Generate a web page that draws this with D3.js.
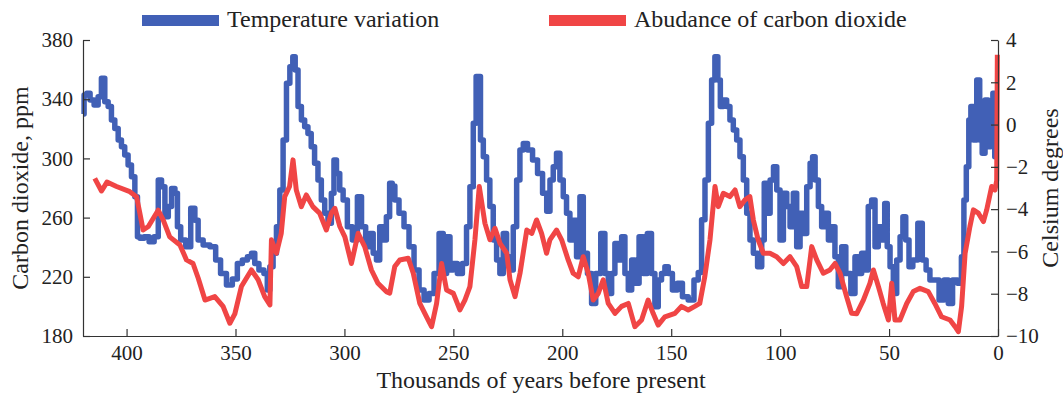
<!DOCTYPE html>
<html>
<head>
<meta charset="utf-8">
<script src="https://cdn.jsdelivr.net/npm/d3@7"></script>
<style>
  html, body { margin: 0; padding: 0; background: #fff; }
  svg { display: block; font-family: "Liberation Serif", "Times New Roman", serif; }
  .axis path, .axis line { stroke: #333; stroke-width: 1.2; }
  .axis text { font-size: 21px; fill: #222; font-family: "Liberation Serif", serif; }
  .title { font-size: 24px; fill: #222; }
</style>
</head>
<body>
<svg id="chart" width="1063" height="395"></svg>
<script>
// CO2 record (thousands of years before present, ppm)
const co2Kyr = [414.6, 411.5, 409, 404.6, 398.5, 395.4, 393.9, 392.4, 390, 385.5, 383.2, 380.2, 375.5, 372.5, 369.5, 367.1, 364, 359.5, 355.7, 352.6,
  350.3, 347.3, 342.7, 339.6, 336.6, 334.2, 333.5, 331.2, 329, 327.4, 325.2, 323.6, 322.1, 319.8, 317.5, 314.5, 311.4, 308.3, 306, 304.4,
  302.1, 299.8, 296.8, 293.7, 290.7, 287.6, 284.6, 280.8, 279.2, 276.9, 274.6, 270.7, 268.4, 265.4, 262.3, 260, 257.7, 255.4, 253.1, 250,
  247, 244.7, 242.4, 240.1, 238.1, 235.5, 233.2, 230.9, 228.6, 225.5, 224, 221.7, 219.4, 216.3, 214, 211.8, 209.5, 207.2, 205.7, 202.6,
  200.3, 197.3, 195, 192.7, 190.4, 188.1, 185.8, 183.5, 181.2, 178.9, 175.8, 172.8, 169.7, 166.7, 163.6, 160.6, 158.3, 156, 152.9, 148.3,
  145.3, 142.2, 139.2, 136.9, 134.6, 132.2, 129.9, 128.4, 126.1, 123.1, 120.7, 118.5, 116.1, 113.9, 112.3, 110.1, 107.7, 104.7, 101.6, 98.5,
  95.5, 92.4, 90.1, 87.8, 85.5, 83.2, 80.2, 77.2, 74.8, 72.5, 69.5, 67.2, 64.9, 61.8, 58.8, 57.2, 54.9, 52.7, 50.3, 48.8,
  47.3, 45, 41.9, 38.9, 35.8, 32, 29, 25.9, 22, 19.7, 18.2, 16.7, 15.1, 12.9, 11.3, 9, 6.7, 5.2, 2.9, 1.4,
  0.6, 0.3];
const co2Ppm = [286.5, 278, 284, 281, 277.5, 274, 263, 251.6, 254, 265, 258.4, 247, 241.5, 231.4, 229, 219, 204.3, 206.6, 200, 188.6,
  195, 213.4, 224.6, 218, 206.6, 201, 245, 236, 249.4, 274.2, 281, 299, 278.7, 267.4, 275.3, 267.4, 263, 251.6, 263, 266.3,
  254, 247, 229, 249.4, 240.4, 224.6, 215.6, 210, 209, 226.9, 231.4, 232.5, 222.4, 202, 193, 186.3, 202, 229, 211, 208.8,
  197.6, 204.3, 213.4, 245, 281, 256.1, 245, 252.8, 242.6, 235.9, 218, 206.6, 222.4, 251.6, 249.4, 258.4, 249.4, 235.9, 244.9, 251.6,
  245, 231.4, 222.4, 220, 233.6, 222.4, 204.3, 208.8, 218, 202, 195.3, 200, 202, 186.3, 190.8, 204.3, 195.3, 187.4, 193, 195.3,
  200, 197.6, 200, 202, 220, 245, 281, 267.4, 276.4, 274.2, 278.7, 267.4, 272, 274.2, 258.4, 245, 235.9, 235.9, 233.6, 229,
  233.6, 226.9, 213.4, 213.4, 240.4, 231.4, 222.4, 224.6, 229, 222.4, 206.6, 195.3, 195, 204.3, 215.6, 224.6, 213.4, 202, 190.8, 215.6,
  190.8, 190.8, 202, 210, 212.2, 210, 202, 193, 190.8, 186.3, 183, 200, 235.9, 253.9, 265.2, 263, 257.3, 265.2, 281, 278.7,
  285, 370];

// Temperature variation (thousands of years before present, degrees C)
const tempKyr = [420, 419, 417.5, 416, 413.8, 412.3, 410.8, 409.2, 407.7, 406.2, 404.6, 403.1, 401.6, 400.1, 398.5, 397, 395.4, 394.6, 393.1, 390.8,
  388.5, 386.2, 384.7, 383.2, 381.6, 380.1, 378.6, 377, 376.3, 374, 371.7, 369.4, 367.9, 366.4, 363.3, 360.2, 358, 355.7, 352.6, 350.3,
  348, 345.7, 343.4, 341.9, 340.4, 338.1, 335.8, 335, 333.5, 332, 330.4, 328.9, 327.4, 325.8, 324.3, 323.1, 322.1, 320.5, 319, 317.5,
  316, 314.5, 312.9, 311.4, 309.8, 308.3, 306.8, 305.2, 304.4, 302.9, 301.4, 299.8, 297.5, 295.2, 292.9, 291.4, 289.1, 287.6, 286, 284.6,
  283, 281.5, 280, 278.5, 277.6, 276.1, 273.8, 271.5, 269.2, 266.9, 264.6, 262.3, 260, 257.7, 255.4, 253.9, 252.3, 250.8, 249.3, 247,
  244.7, 243.2, 241.6, 240.1, 239, 238.1, 237, 235.5, 234, 232.5, 230.9, 229.4, 227.9, 226.3, 224.8, 223.3, 221.7, 220.2, 218.7, 217.1,
  214.8, 212.5, 210.2, 207.9, 206.4, 204.9, 203.4, 201.9, 200.3, 198.8, 197.3, 195.7, 194.2, 192.7, 191.1, 189.6, 187.3, 185.8, 183.5, 181.2,
  179.7, 178.1, 176.6, 175.1, 173.5, 172, 170.5, 168.9, 167.4, 165.9, 163.6, 162.1, 159.8, 158.3, 156.7, 155.2, 153.7, 152.1, 150.6, 148.3,
  146, 143.7, 140.7, 138.4, 136.8, 135.3, 133.7, 132.2, 130.7, 129.2, 128, 126.9, 125.3, 123.8, 122.3, 120.7, 119.2, 117.7, 116.1, 114.6,
  113.1, 111.5, 109.2, 107.7, 106.9, 105.4, 103.8, 102.3, 100.8, 99.3, 97.7, 96.2, 94.7, 93.2, 91.6, 90.1, 88.6, 87, 85.5, 84.7,
  83.2, 81.7, 80.2, 78.6, 77.1, 75.6, 74.1, 72.5, 71, 68.7, 66.4, 64.9, 63.4, 61.8, 60.3, 58.8, 57.2, 55.7, 54.2, 52.6,
  51.4, 50.3, 48.8, 47.3, 45.7, 44.2, 43.1, 41.6, 40.1, 38.1, 35.5, 34, 32, 30.5, 28.2, 25.9, 23.6, 22, 19.7, 17.4,
  16.2, 15.1, 14, 12.8, 12.1, 10.5, 9, 7.8, 6.7, 5.2, 3.9, 2.9, 1.8, 1.2];
const tempC = [0.5, 1.4, 1.48, 1.16, 0.92, 1.32, 2.19, 1.08, 0.85, 0.22, -0.18, -0.73, -1.05, -1.44, -1.91, -2.47, -3.41, -5.3, -5.38, -5.3,
  -5.54, -5.3, -2.62, -2.94, -4.36, -3.88, -3.02, -3.25, -4.83, -5.46, -5.78, -3.96, -4.52, -5.46, -5.7, -5.78, -6.41, -7.04, -7.59, -7.3,
  -6.57, -6.41, -6.25, -6.09, -6.57, -6.88, -7.04, -7.83, -6.72, -6.09, -4.83, -3.1, -0.73, 1.95, 2.74, 3.21, 2.58, 0.85, 0.22, -0.1,
  -0.42, -1.05, -1.83, -2.62, -3.57, -4.2, -4.67, -3.25, -1.68, -2.31, -3.1, -3.57, -4.83, -5.46, -3.41, -4.83, -5.78, -5.15, -6.09, -6.41,
  -4.83, -5.46, -4.36, -2.78, -2.9, -3.57, -4.2, -4.83, -5.78, -6.88, -7.83, -8.3, -7.99, -7.04, -5.15, -7.04, -5.3, -6.88, -6.57, -7.04,
  -6.57, -4.83, -2.94, 0.06, 2.27, 2.27, -0.73, -1.52, -2.62, -3.88, -5.46, -6.41, -7.04, -5.15, -6.25, -6.88, -4.83, -2.62, -1.2, -0.89,
  -1.2, -1.68, -2.31, -3.25, -4.1, -2.62, -1.99, -1.36, -2.62, -3.41, -4.2, -5.46, -4.52, -6.25, -3.41, -6.09, -7.04, -8.46, -7.04, -5.15,
  -7.04, -7.99, -7.04, -5.62, -6.41, -5.3, -7.04, -7.83, -6.41, -7.51, -5.3, -7.04, -5.15, -7.04, -8.62, -7.35, -7.04, -6.72, -7.04, -7.83,
  -7.51, -8.14, -8.3, -7.35, -7.0, -4.5, -2.62, 0.06, 2.11, 3.21, 2.11, 0.85, 1.16, 0.85, 0.22, -0.26, -0.73, -1.52, -2.62, -4.2,
  -5.46, -6.09, -6.72, -5.46, -2.78, -4.2, -2.62, -1.99, -3.1, -5.46, -3.25, -3.88, -4.83, -3.25, -5.78, -4.2, -5.15, -2.94, -1.83, -1.52,
  -2.62, -3.88, -4.83, -4.2, -5.46, -4.83, -6.25, -7.67, -5.78, -7.04, -7.99, -6.25, -7.04, -6.09, -6.88, -3.88, -3.57, -5.78, -4.83, -5.46,
  -3.73, -5.78, -6.72, -7.99, -6.41, -5.3, -4.36, -5.46, -6.72, -6.41, -4.67, -6.41, -6.88, -7.35, -7.35, -8.3, -7.35, -8.46, -7.35, -7.51,
  -6.25, -3.57, -1.99, 0.22, 0.85, -0.73, 2.11, -0.73, -1.36, 1.16, -1.05, -0.1, 1.48, -1.52];

const kyrTicks = [400, 350, 300, 250, 200, 150, 100, 50, 0];
const ppmTicks = [180, 220, 260, 300, 340, 380];
const celsiusTicks = [-10, -8, -6, -4, -2, 0, 2, 4];

const blue = '#4160b6';
const red = '#f04545';

const svg = d3.select('#chart');
svg.append('rect').attr('width', 1063).attr('height', 395).attr('fill', '#fff');

const margin = { left: 83, right: 65, top: 40, bottom: 59 };
const W = 1063, H = 395;

const x = d3.scaleLinear().domain([420, 0]).range([margin.left, W - margin.right]);
const yCo2 = d3.scaleLinear().domain([180, 380]).range([H - margin.bottom, margin.top]);
const yTemp = d3.scaleLinear().domain([-10, 4]).range([H - margin.bottom, margin.top]);

// lignes : température en escalier (signal bruité), CO2 lissé
const tempLine = d3.line()
  .x(i => x(tempKyr[i]))
  .y(i => yTemp(tempC[i]))
  .curve(d3.curveStep);
const co2Line = d3.line()
  .x(i => x(co2Kyr[i]))
  .y(i => yCo2(co2Ppm[i]));

svg.append('path')
  .attr('d', tempLine(d3.range(tempKyr.length)))
  .attr('fill', 'none')
  .attr('stroke', blue)
  .attr('stroke-width', 5.5)
  .attr('stroke-linejoin', 'round');

svg.append('path')
  .attr('d', co2Line(d3.range(co2Kyr.length)))
  .attr('fill', 'none')
  .attr('stroke', red)
  .attr('stroke-width', 5)
  .attr('stroke-linejoin', 'round');

// axes (graduations vers l'intérieur)
svg.append('g')
  .attr('class', 'axis')
  .attr('transform', `translate(${margin.left},0)`)
  .call(d3.axisLeft(yCo2).tickValues(ppmTicks).tickSize(-7).tickSizeOuter(0).tickPadding(10));

svg.append('g')
  .attr('class', 'axis')
  .attr('transform', `translate(${W - margin.right},0)`)
  .call(d3.axisRight(yTemp).tickValues(celsiusTicks).tickSize(-7).tickSizeOuter(0).tickPadding(8));

svg.append('g')
  .attr('class', 'axis')
  .attr('transform', `translate(0,${H - margin.bottom})`)
  .call(d3.axisBottom(x).tickValues(kyrTicks).tickSize(-7).tickSizeOuter(0).tickPadding(9));

svg.selectAll('.axis .domain').attr('fill', 'none');

// titres
svg.append('text')
  .attr('class', 'title')
  .attr('text-anchor', 'middle')
  .attr('transform', 'translate(28,188) rotate(-90)')
  .text('Carbon dioxide, ppm');

svg.append('text')
  .attr('class', 'title')
  .attr('text-anchor', 'middle')
  .attr('transform', 'translate(1058,188) rotate(-90)')
  .text('Celsium degrees');

svg.append('text')
  .attr('class', 'title')
  .attr('text-anchor', 'middle')
  .attr('x', 541)
  .attr('y', 388)
  .text('Thousands of years before present');

// légende
const legend = [
  { label: 'Temperature variation', color: blue, x: 142 },
  { label: 'Abudance of carbon dioxide', color: red, x: 549 }
];
const lg = svg.append('g');
lg.selectAll('rect').data(legend).enter().append('rect')
  .attr('x', d => d.x).attr('y', 15).attr('width', 77).attr('height', 11)
  .attr('fill', d => d.color);
lg.selectAll('text').data(legend).enter().append('text')
  .attr('class', 'title')
  .attr('x', d => d.x + 85).attr('y', 27)
  .text(d => d.label);
</script>
</body>
</html>
